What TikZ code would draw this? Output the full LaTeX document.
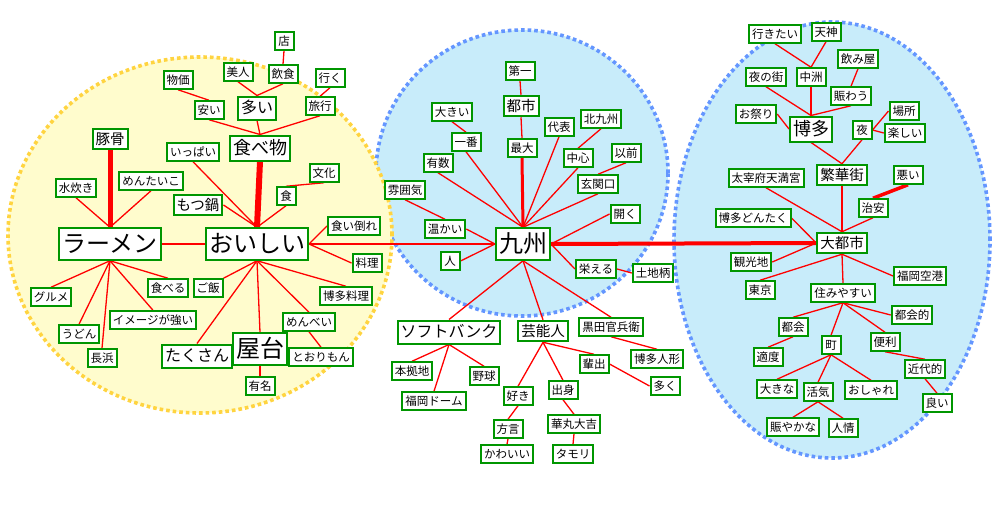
\documentclass[tikz,border=0pt]{standalone}
\usepackage{fontspec}
\setmainfont{Noto Sans CJK JP}
\definecolor{boxgreen}{RGB}{0,150,0}
\definecolor{yfill}{RGB}{255,252,205}
\definecolor{ydot}{RGB}{255,212,64}
\definecolor{bfill}{RGB}{200,236,250}
\definecolor{bdot}{RGB}{100,150,255}
\definecolor{lnred}{RGB}{255,0,0}
\pgfdeclarelayer{bg}
\pgfdeclarelayer{edges}
\pgfsetlayers{bg,edges,main}
\tikzset{
  box/.style={draw=boxgreen, line width=2pt, fill=white, inner xsep=3pt, inner ysep=0pt},
  ns/.style={box, font=\fontsize{11.5}{12}\selectfont, minimum height=17.5pt, minimum width=19pt, text height=10pt, text depth=1.5pt},
  nm/.style={box, font=\fontsize{14.5}{15}\selectfont, minimum height=20.5pt, text height=12.6pt, text depth=1.9pt},
  nl/.style={box, font=\fontsize{16}{17}\selectfont, minimum height=23pt, text height=13.9pt, text depth=2.1pt},
  nxl/.style={box, font=\fontsize{18}{19}\selectfont, minimum height=25pt, text height=15.7pt, text depth=2.3pt},
  nxxl/.style={box, font=\fontsize{24}{25}\selectfont, minimum height=31.5pt, text height=20.9pt, text depth=3.1pt},
  ln/.style={draw=lnred, line width=1.3pt},
  lnw/.style={draw=lnred, line width=#1},
  bubble/.style={line width=3.6pt, dash pattern=on 3.6pt off 3pt},
}
\begin{document}
\begin{tikzpicture}[x=1pt,y=-1pt]
\useasboundingbox (0,0) rectangle (1000,519);
\begin{pgfonlayer}{bg}
\fill[white] (0,0) rectangle (1000,519);
\filldraw[fill=bfill, draw=bdot, bubble] (522,173) ellipse [x radius=146pt, y radius=143pt];
\filldraw[fill=bfill, draw=bdot, bubble] (832,240) ellipse [x radius=158pt, y radius=218pt];
\filldraw[fill=yfill, draw=ydot, bubble] (200,235) ellipse [x radius=192pt, y radius=178pt];
\end{pgfonlayer}

% ---------- left cluster ----------
\node[ns] (ten) at (284,41) {店};
\node[ns] (inshoku) at (283,74) {飲食};
\node[ns] (bijin) at (238,72) {美人};
\node[ns] (iku) at (330,78) {行く};
\node[ns] (bukka) at (178,80) {物価};
\node[nl] (ooi) at (257,108) {多い};
\node[ns] (yasui) at (209,110) {安い};
\node[ns] (ryoko) at (320,106) {旅行};
\node[nxl] (tabemono) at (260,148) {食べ物};
\node[nm] (tonkotsu) at (110,139) {豚骨};
\node[ns] (ippai) at (193,152) {いっぱい};
\node[ns] (bunka) at (324,173) {文化};
\node[ns] (mentaiko) at (151,181) {めんたいこ};
\node[ns] (shoku) at (286,196) {食};
\node[ns] (mizutaki) at (76,188) {水炊き};
\node[nm] (motsunabe) at (198,205) {もつ鍋};
\node[nxxl] (ramen) at (110,244) {ラーメン};
\node[nxxl] (oishii) at (257,244) {おいしい};
\node[ns] (kuidaore) at (354,226) {食い倒れ};
\node[ns] (ryori) at (367,263) {料理};
\node[ns] (gurume) at (51,297) {グルメ};
\node[ns] (taberu) at (168,288) {食べる};
\node[ns] (gohan) at (208,288) {ご飯};
\node[ns] (hakataryori) at (346,296) {博多料理};
\node[ns] (image) at (153,320) {イメージが強い};
\node[ns] (udon) at (79,334) {うどん};
\node[ns] (menbei) at (309,322) {めんべい};
\node[ns] (nagahama) at (102,358) {長浜};
\node[nl] (takusan) at (197,356) {たくさん};
\node[nxxl] (yatai) at (260,349) {屋台};
\node[ns] (torimon) at (321,357) {とおりもん};
\node[ns] (yumei) at (260,386) {有名};

% ---------- middle cluster ----------
\node[ns] (daiichi) at (520,71) {第一};
\node[nm] (toshi) at (521,106) {都市};
\node[ns] (ookii) at (452,112) {大きい};
\node[ns] (daihyo) at (559,127) {代表};
\node[ns] (kitakyushu) at (601,119) {北九州};
\node[ns] (ichiban) at (466,142) {一番};
\node[ns] (saidai) at (522,148) {最大};
\node[ns] (chushin) at (578,158) {中心};
\node[ns] (izen) at (626,153) {以前};
\node[ns] (yusu) at (438,163) {有数};
\node[ns] (genkan) at (598,184) {玄関口};
\node[ns] (fun) at (405,190) {雰囲気};
\node[ns] (hiraku) at (625,214) {開く};
\node[ns] (atatakai) at (445,229) {温かい};
\node[nxxl] (kyushu) at (523,244) {九州};
\node[ns] (hito) at (450,261) {人};
\node[ns] (sakaeru) at (596,269) {栄える};
\node[ns] (tochigara) at (653,273) {土地柄};
\node[nl] (softbank) at (449,332) {ソフトバンク};
\node[nm] (geinin) at (543,331) {芸能人};
\node[ns] (kuroda) at (611,327) {黒田官兵衛};
\node[ns] (honkyo) at (412,371) {本拠地};
\node[ns] (yakyu) at (484,376) {野球};
\node[ns] (haishutsu) at (594,364) {輩出};
\node[ns] (hakataningyo) at (657,359) {博多人形};
\node[ns] (dome) at (434,401) {福岡ドーム};
\node[ns] (suki) at (518,396) {好き};
\node[ns] (shusshin) at (563,390) {出身};
\node[ns] (ooku) at (665,386) {多く};
\node[ns] (hogen) at (508,429) {方言};
\node[ns] (hanamaru) at (574,424) {華丸大吉};
\node[ns] (kawaii) at (507,454) {かわいい};
\node[ns] (tamori) at (573,454) {タモリ};

% ---------- right cluster ----------
\node[ns] (ikitai) at (775,34) {行きたい};
\node[ns] (tenjin) at (826,32) {天神};
\node[ns] (nomiya) at (858,59) {飲み屋};
\node[ns] (yorunomachi) at (766,77) {夜の街};
\node[ns] (nakasu) at (811,77) {中洲};
\node[ns] (nigiwau) at (851,96) {賑わう};
\node[ns] (omatsuri) at (756,114) {お祭り};
\node[nxl] (hakata) at (811,129) {博多};
\node[ns] (basho) at (904,111) {場所};
\node[ns] (yoru) at (862,130) {夜};
\node[ns] (tanoshii) at (905,133) {楽しい};
\node[nm] (hankagai) at (842,175) {繁華街};
\node[ns] (dazaifu) at (766,178) {太宰府天満宮};
\node[ns] (warui) at (908,175) {悪い};
\node[ns] (chian) at (873,208) {治安};
\node[ns] (dontaku) at (753,218) {博多どんたく};
\node[nm] (daitoshi) at (842,243) {大都市};
\node[ns] (kanko) at (751,262) {観光地};
\node[ns] (tokyo) at (760,290) {東京};
\node[ns] (kuko) at (920,276) {福岡空港};
\node[ns] (sumiyasui) at (843,293) {住みやすい};
\node[ns] (tokaiteki) at (912,315) {都会的};
\node[ns] (tokai) at (793,327) {都会};
\node[ns] (machi) at (831,345) {町};
\node[ns] (benri) at (885,342) {便利};
\node[ns] (tekido) at (768,357) {適度};
\node[ns] (kindaiteki) at (925,369) {近代的};
\node[ns] (ookina) at (777,389) {大きな};
\node[ns] (kakki) at (818,392) {活気};
\node[ns] (oshare) at (871,390) {おしゃれ};
\node[ns] (yoi) at (937,403) {良い};
\node[ns] (nigiyaka) at (793,427) {賑やかな};
\node[ns] (ninjo) at (843,428) {人情};

\begin{pgfonlayer}{edges}
% left
\draw[ln] (ten.south) -- (inshoku.north);
\draw[ln] (inshoku.south) -- (ooi.north);
\draw[ln] (bijin.south) -- (ooi.north);
\draw[ln] (iku.south) -- (ryoko.north);
\draw[ln] (bukka.south) -- (yasui.north);
\draw[ln] (ooi.south) -- (tabemono.north);
\draw[ln] (yasui.south) -- (tabemono.north);
\draw[ln] (ryoko.south) -- (tabemono.north);
\draw[lnw=6pt] (tabemono.south) -- (oishii.north);
\draw[ln] (ippai.south) -- (oishii.north);
\draw[ln] (bunka.south) -- (shoku.north);
\draw[ln] (shoku.south) -- (oishii.north);
\draw[ln] (motsunabe.east) -- (oishii.north);
\draw[ln] (mentaiko.south) -- (ramen.north);
\draw[ln] (mizutaki.south) -- (ramen.north);
\draw[lnw=5pt] (tonkotsu.south) -- (ramen.north);
\draw[ln] (ramen.east) -- (oishii.west);
\draw[ln] (ramen.south) -- (gurume.north);
\draw[ln] (ramen.south) -- (taberu.north);
\draw[ln] (ramen.south) -- (image.north);
\draw[ln] (ramen.south) -- (udon.north);
\draw[ln] (ramen.south) -- (nagahama.north);
\draw[ln] (oishii.south) -- (gohan.north east);
\draw[ln] (oishii.south) -- (hakataryori.north);
\draw[ln] (oishii.south) -- (menbei.north);
\draw[ln] (oishii.south) -- (takusan.north);
\draw[ln] (oishii.south) -- (yatai.north);
\draw[ln] (menbei.south) -- (torimon.north);
\draw[ln] (yatai.south) -- (yumei.north);
\draw[ln] (oishii.east) -- (kuidaore.west);
\draw[ln] (oishii.east) -- (ryori.west);
\draw[ln] (oishii.east) -- (kyushu.west);
% middle
\draw[ln] (daiichi.south) -- (toshi.north);
\draw[ln] (toshi.south) -- (saidai.north);
\draw[lnw=3pt] (saidai.south) -- (kyushu.north);
\draw[ln] (ookii.south) -- (ichiban.north);
\draw[ln] (ichiban.south) -- (kyushu.north);
\draw[ln] (yusu.south) -- (kyushu.north);
\draw[ln] (fun.south) -- (atatakai.north);
\draw[ln] (atatakai.east) -- (kyushu.west);
\draw[ln] (hito.east) -- (kyushu.west);
\draw[ln] (daihyo.south) -- (kyushu.north);
\draw[ln] (kitakyushu.south) -- (chushin.north);
\draw[ln] (chushin.south) -- (kyushu.north);
\draw[ln] (izen.south) -- (genkan.north);
\draw[ln] (genkan.south) -- (kyushu.north);
\draw[ln] (hiraku.west) -- (kyushu.east);
\draw[ln] (sakaeru.west) -- (kyushu.east);
\draw[ln] (sakaeru.east) -- (tochigara.west);
\draw[lnw=4pt] (kyushu.east) -- (daitoshi.west);
\draw[ln] (kyushu.south) -- (softbank.north);
\draw[ln] (kyushu.south) -- (geinin.north);
\draw[ln] (kyushu.south) -- (kuroda.north);
\draw[ln] (softbank.south) -- (honkyo.north);
\draw[ln] (softbank.south) -- (dome.north);
\draw[ln] (softbank.south) -- (yakyu.north);
\draw[ln] (geinin.south) -- (suki.north);
\draw[ln] (geinin.south) -- (shusshin.north);
\draw[ln] (geinin.south) -- (haishutsu.north);
\draw[ln] (suki.south) -- (hogen.north);
\draw[ln] (hogen.south) -- (kawaii.north);
\draw[ln] (shusshin.south) -- (hanamaru.north);
\draw[ln] (hanamaru.south) -- (tamori.north);
\draw[ln] (haishutsu.east) -- (ooku.west);
\draw[ln] (kuroda.south) -- (hakataningyo.north);
% right
\draw[ln] (ikitai.south) -- (nakasu.north);
\draw[ln] (tenjin.south) -- (nakasu.north);
\draw[ln] (nomiya.south) -- (nigiwau.north);
\draw[ln] (yorunomachi.south) -- (hakata.north);
\draw[ln] (nakasu.south) -- (hakata.north);
\draw[ln] (nigiwau.south) -- (hakata.north);
\draw[ln] (omatsuri.east) -- (hakata.west);
\draw[ln] (hakata.south) -- (hankagai.north);
\draw[ln] (yoru.south) -- (hankagai.north);
\draw[ln] (basho.west) -- (yoru.east);
\draw[ln] (tanoshii.west) -- (yoru.east);
\draw[ln] (hankagai.south) -- (daitoshi.north);
\draw[lnw=3.5pt] (warui.south) -- (chian.north);
\draw[ln] (chian.south) -- (daitoshi.north);
\draw[ln] (dazaifu.south) -- (daitoshi.north);
\draw[ln] (dontaku.east) -- (daitoshi.west);
\draw[ln] (kanko.east) -- (daitoshi.west);
\draw[ln] (tokyo.north) -- (daitoshi.south);
\draw[ln] (kuko.west) -- (daitoshi.south);
\draw[ln] (daitoshi.south) -- (sumiyasui.north);
\draw[ln] (sumiyasui.south) -- (tokai.north);
\draw[ln] (sumiyasui.south) -- (machi.north);
\draw[ln] (sumiyasui.south) -- (benri.north);
\draw[ln] (sumiyasui.south) -- (tokaiteki.west);
\draw[ln] (tokai.south) -- (tekido.north);
\draw[ln] (machi.south) -- (ookina.north);
\draw[ln] (machi.south) -- (kakki.north);
\draw[ln] (machi.south) -- (oshare.north);
\draw[ln] (kakki.south) -- (nigiyaka.north);
\draw[ln] (kakki.south) -- (ninjo.north);
\draw[ln] (benri.south) -- (kindaiteki.north);
\draw[ln] (kindaiteki.south) -- (yoi.north);
\end{pgfonlayer}
\end{tikzpicture}
\end{document}
